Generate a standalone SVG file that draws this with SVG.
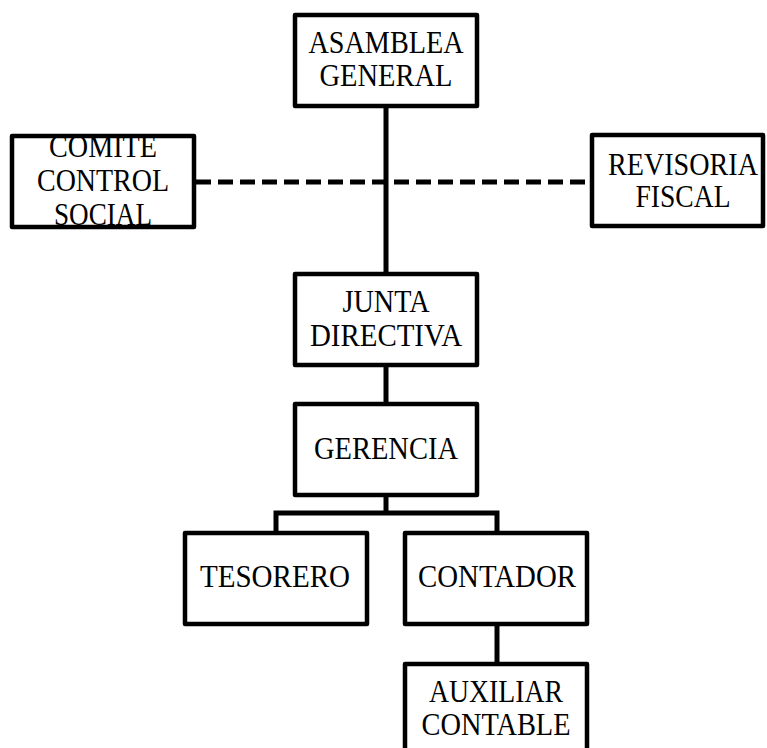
<svg xmlns="http://www.w3.org/2000/svg" width="767" height="748" viewBox="0 0 767 748">
<style>
.box{fill:none;stroke:#000;stroke-width:4.5;stroke-linejoin:round}
.t{font-family:"Liberation Serif",serif;font-size:32px;fill:#000;text-anchor:middle}
.c{fill:none;stroke:#000;stroke-width:5}
.d{fill:none;stroke:#000;stroke-width:5;stroke-dasharray:15 7}
</style>
<rect width="767" height="748" fill="#fff"/>
<g id="connectors">
<line class="d" x1="196" y1="182" x2="590" y2="182"/>
<line class="c" x1="386" y1="106" x2="386" y2="274"/>
<line class="c" x1="386" y1="365" x2="386" y2="404"/>
<polyline class="c" points="386,495 386,513"/>
<polyline class="c" points="276,533 276,513 497,513 497,533"/>
<line class="c" x1="497" y1="624" x2="497" y2="664"/>
</g>
<g id="asamblea">
<rect x="295" y="15" width="182" height="91" fill="#fff"/>
<text class="t" x="386" y="53" textLength="155" lengthAdjust="spacingAndGlyphs">ASAMBLEA</text>
<text class="t" x="386" y="86" textLength="133" lengthAdjust="spacingAndGlyphs">GENERAL</text>
<rect class="box" x="295" y="15" width="182" height="91"/>
</g>
<g id="comite">
<rect x="12" y="136" width="182" height="91" fill="#fff"/>
<text class="t" x="103" y="157" textLength="108" lengthAdjust="spacingAndGlyphs">COMITE</text>
<text class="t" x="103" y="191" textLength="132" lengthAdjust="spacingAndGlyphs">CONTROL</text>
<text class="t" x="103" y="225" textLength="98" lengthAdjust="spacingAndGlyphs">SOCIAL</text>
<rect class="box" x="12" y="136" width="182" height="91"/>
</g>
<g id="revisoria">
<rect x="592" y="135" width="171" height="91" fill="#fff"/>
<text class="t" x="683" y="175" textLength="150" lengthAdjust="spacingAndGlyphs">REVISORIA</text>
<text class="t" x="683" y="207" textLength="95" lengthAdjust="spacingAndGlyphs">FISCAL</text>
<rect class="box" x="592" y="135" width="171" height="91"/>
</g>
<g id="junta">
<rect x="295" y="274" width="182" height="91" fill="#fff"/>
<text class="t" x="386" y="312" textLength="87" lengthAdjust="spacingAndGlyphs">JUNTA</text>
<text class="t" x="386" y="346" textLength="152" lengthAdjust="spacingAndGlyphs">DIRECTIVA</text>
<rect class="box" x="295" y="274" width="182" height="91"/>
</g>
<g id="gerencia">
<rect x="295" y="404" width="182" height="91" fill="#fff"/>
<text class="t" x="386" y="459" textLength="144" lengthAdjust="spacingAndGlyphs">GERENCIA</text>
<rect class="box" x="295" y="404" width="182" height="91"/>
</g>
<g id="tesorero">
<rect x="185" y="533" width="182" height="91" fill="#fff"/>
<text class="t" x="275" y="587" textLength="150" lengthAdjust="spacingAndGlyphs">TESORERO</text>
<rect class="box" x="185" y="533" width="182" height="91"/>
</g>
<g id="contador">
<rect x="405" y="533" width="182" height="91" fill="#fff"/>
<text class="t" x="497" y="587" textLength="158" lengthAdjust="spacingAndGlyphs">CONTADOR</text>
<rect class="box" x="405" y="533" width="182" height="91"/>
</g>
<g id="auxiliar">
<rect x="405" y="664" width="182" height="91" fill="#fff"/>
<text class="t" x="496" y="702" textLength="134" lengthAdjust="spacingAndGlyphs">AUXILIAR</text>
<text class="t" x="496" y="735" textLength="149" lengthAdjust="spacingAndGlyphs">CONTABLE</text>
<rect class="box" x="405" y="664" width="182" height="91"/>
</g>
</svg>
